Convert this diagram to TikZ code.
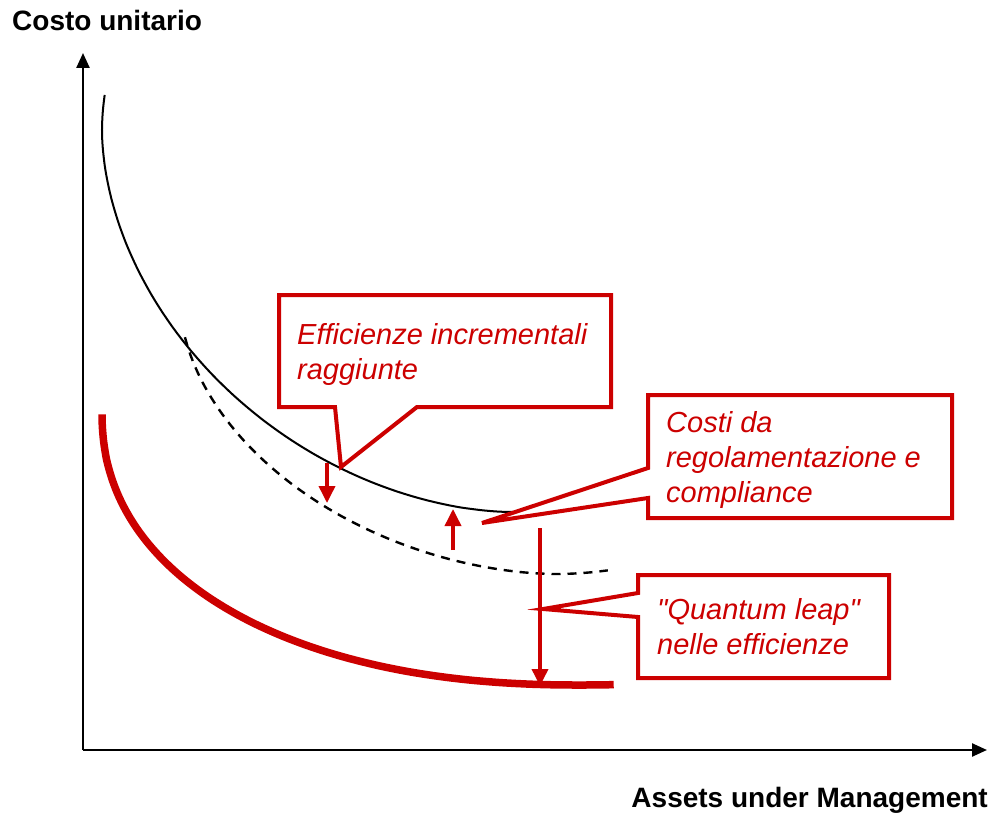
\documentclass[tikz,border=0pt]{standalone}
\usepackage{fontspec}
\newfontfamily\plainsans{Liberation Sans}
\usetikzlibrary{arrows.meta}
\definecolor{cred}{RGB}{204,0,0}
\tikzset{
  axis/.style={line width=2.4pt,-{Triangle[length=15pt,width=13pt]}},
  axtitle/.style={font=\plainsans\bfseries\fontsize{28}{33}\selectfont,inner sep=0pt},
  calltext/.style={font=\plainsans\itshape\fontsize{29}{35}\selectfont,text=cred,align=left,inner sep=0pt,anchor=north west},
  callbox/.style={draw=cred,line width=4pt,fill=white,line join=miter},
  redarrow/.style={draw=cred,line width=3.6pt,-{Triangle[length=17pt,width=16pt]}},
  costcurve/.style={line width=2pt},
  dashcurve/.style={line width=2.4pt,dash pattern=on 9pt off 7pt},
  newcurve/.style={draw=cred,line width=7.5pt},
}
\begin{document}
\begin{tikzpicture}[x=1pt,y=-1pt]
\useasboundingbox (0,0) rectangle (993,813);
% axes
\coordinate (O) at (83,750);
\coordinate (ytip) at (83,53);
\coordinate (xtip) at (987,750);
\draw[axis] (O) -- (ytip);
\draw[axis] (O) -- (xtip);
\node[axtitle,anchor=base west] (ylab) at (12,31) {Costo unitario};
\node[axtitle,anchor=base east] (xlab) at (988,807) {Assets under Management};
% curves (superellipse arcs)
\draw[costcurve] plot[domain=-6.3:89.9,samples=70,smooth,variable=\t]
  ({514-412*cos(\t)^1.081},{130+382*sin(\t)*abs(sin(\t))^0.081});
\draw[dashcurve] plot[domain=9:99,samples=46,smooth,variable=\t]
  ({557-377*cos(\t)*abs(cos(\t))^0.081},{300+274*sin(\t)^1.081});
\draw[newcurve] plot[domain=0.3:93.1,samples=60,smooth,variable=\t]
  ({580-478*cos(\t)*abs(cos(\t))^(-0.091)},{412+273*sin(\t)^0.909});
% red arrows
\coordinate (a1s) at (327,463); \coordinate (a1e) at (327,503);
\coordinate (a2s) at (453,550); \coordinate (a2e) at (453,509);
\coordinate (a3s) at (540,528); \coordinate (a3e) at (540,686);
\draw[redarrow] (a1s) -- (a1e);
\draw[redarrow] (a2s) -- (a2e);
\draw[redarrow] (a3s) -- (a3e);
% callout 1
\coordinate (c1tip) at (341,467);
\draw[callbox] (279,295) -- (611,295) -- (611,407) -- (417,407) -- (c1tip) -- (335,407) -- (279,407) -- cycle;
\node[calltext] (t1) at (297,323) {Efficienze incrementali\\raggiunte};
% callout 2
\coordinate (c2tip) at (482,523);
\draw[callbox] (648,395) -- (952,395) -- (952,518) -- (648,518) -- (648,498) -- (c2tip) -- (648,468) -- cycle;
\node[calltext] (t2) at (666,411) {Costi da\\regolamentazione e\\compliance};
% callout 3
\coordinate (c3tip) at (543,609);
\draw[callbox] (638,575) -- (889,575) -- (889,678) -- (638,678) -- (638,617) -- (c3tip) -- (638,593) -- cycle;
\node[calltext] (t3) at (657,598) {"Quantum leap"\\nelle efficienze};
\end{tikzpicture}
\end{document}
